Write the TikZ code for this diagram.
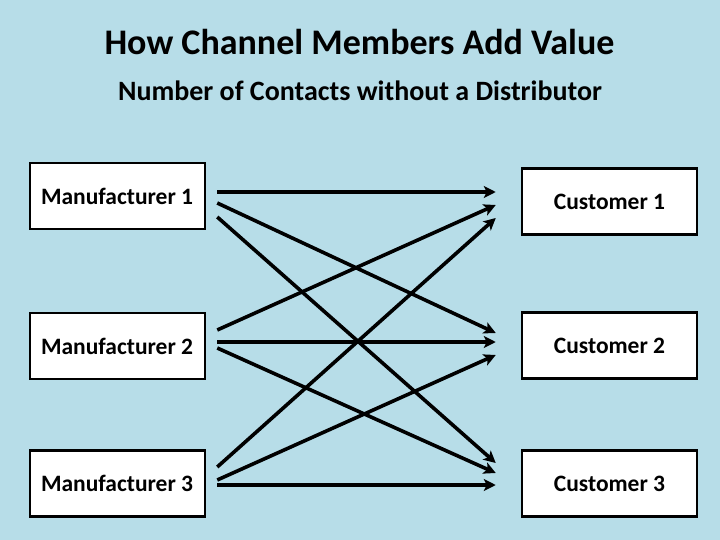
\documentclass[tikz,border=0pt]{standalone}
\usepackage{fontspec}
\setmainfont{Carlito}
\usetikzlibrary{arrows.meta}
\definecolor{bgblue}{RGB}{183,221,232}
\tikzset{
  mbox/.style={draw=black, line width=2.5pt, fill=white, minimum width=175pt, minimum height=66pt, inner sep=0pt, font=\fontsize{23.5}{28}\selectfont\bfseries},
  cbox/.style={draw=black, line width=2.5pt, fill=white, minimum width=175pt, minimum height=66pt, inner sep=0pt, font=\fontsize{23.5}{28}\selectfont\bfseries},
  link/.style={draw=black, line width=3.6pt, -{Stealth[length=12pt,width=12pt,inset=3pt]}},
}
\begin{document}
\begin{tikzpicture}[x=1pt,y=-1pt]
\fill[bgblue] (0,0) rectangle (720,540);
\useasboundingbox (0,0) rectangle (720,540);
\node[anchor=base, font=\fontsize{36}{40}\selectfont\bfseries] (title) at (359.5,54.5) {How Channel Members Add Value};
\node[anchor=base, font=\fontsize{28}{32}\selectfont\bfseries] (sub) at (360,101) {Number of Contacts without a Distributor};
\node[mbox] (m1) at (117.5,196) {\makebox[153pt][l]{Manufacturer 1}};
\node[mbox] (m2) at (117.5,346) {\makebox[153pt][l]{Manufacturer 2}};
\node[mbox] (m3) at (117.5,483.5) {\makebox[153pt][l]{Manufacturer 3}};
\node[cbox] (c1) at (609.5,201.5) {Customer 1};
\node[cbox] (c2) at (609.5,345.5) {Customer 2};
\node[cbox] (c3) at (609.5,483.5) {Customer 3};
\draw[link] ([xshift=11pt,yshift=4pt]m1.east) -- ([xshift=-25pt,yshift=9.5pt]c1.west);
\draw[link] ([xshift=11pt,yshift=-7pt]m1.east) -- ([xshift=-25pt,yshift=12.5pt]c2.west);
\draw[link] ([xshift=11pt,yshift=-21pt]m1.east) -- ([xshift=-25pt,yshift=20.5pt]c3.west);
\draw[link] ([xshift=11pt,yshift=16pt]m2.east) -- ([xshift=-25pt,yshift=-3.5pt]c1.west);
\draw[link] ([xshift=11pt,yshift=4pt]m2.east) -- ([xshift=-25pt,yshift=3.5pt]c2.west);
\draw[link] ([xshift=11pt,yshift=-2pt]m2.east) -- ([xshift=-25pt,yshift=10.5pt]c3.west);
\draw[link] ([xshift=11pt,yshift=16.5pt]m3.east) -- ([xshift=-25pt,yshift=-16.5pt]c1.west);
\draw[link] ([xshift=11pt,yshift=3.5pt]m3.east) -- ([xshift=-25pt,yshift=-9.5pt]c2.west);
\draw[link] ([xshift=11pt,yshift=-1.5pt]m3.east) -- ([xshift=-25pt,yshift=-1.5pt]c3.west);
\end{tikzpicture}
\end{document}
